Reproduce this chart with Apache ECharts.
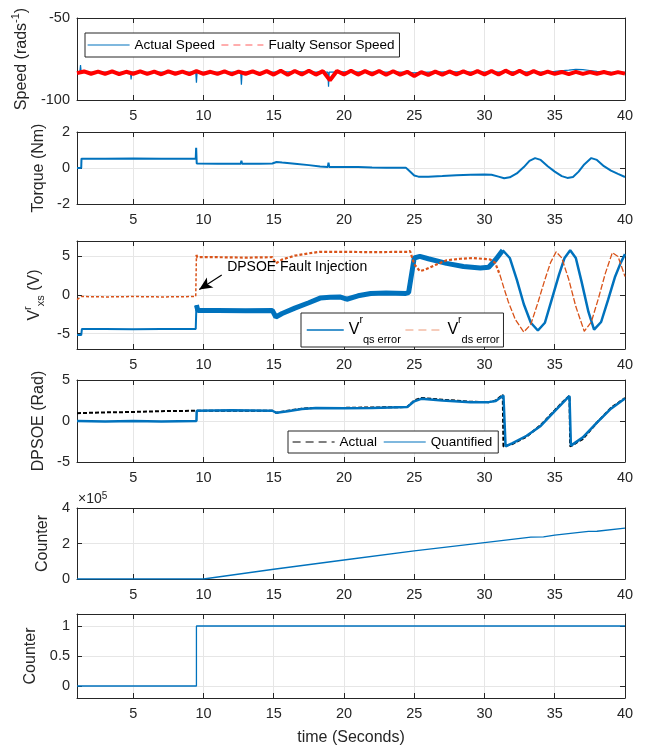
<!DOCTYPE html>
<html><head><meta charset="utf-8">
<script src="https://cdn.jsdelivr.net/npm/echarts@6/dist/echarts.min.js"></script>
<style>html,body{margin:0;padding:0;background:#fff}#c{width:648px;height:748px}</style>
</head><body><div id="c"></div>
<script>
// ---------- data ----------
const xTicks = [5, 10, 15, 20, 25, 30, 35, 40];

const speedActualT = [1, 1.2, 1.25, 1.3, 2, 3, 4, 4.8, 4.85, 4.9, 6, 7, 8, 9, 9.45, 9.5, 9.55, 10.5, 11.5, 12.65, 12.7, 12.75, 14, 15, 16, 17, 18, 18.85, 18.9, 18.95, 20, 22, 24, 25, 26, 28, 30, 32, 34, 35, 36, 36.5, 37, 37.5, 38, 39, 40];
const speedActualV = [-83, -83, -78.7, -83, -83.2, -83, -83.1, -83, -87.4, -83, -83.2, -83, -83.1, -83, -83, -89.4, -83, -83.1, -83, -83, -90.7, -83, -83.2, -83, -82.8, -82.9, -83, -83, -91.9, -83, -82.8, -83, -83, -83.5, -83, -82.9, -83, -82.8, -83, -82.5, -81.8, -81.3, -81.5, -82, -82.5, -83, -83.2];

const speedFaultyT = [1, 1.5, 2, 2.5, 3, 3.5, 4, 4.5, 5, 5.5, 6, 6.5, 7, 7.5, 8, 8.5, 9, 9.5, 10, 10.5, 11, 11.5, 12, 12.5, 13, 13.5, 14, 14.5, 15, 15.5, 16, 16.5, 17, 17.5, 18, 18.5, 19, 19.5, 20, 20.5, 21, 21.5, 22, 22.5, 23, 23.5, 24, 24.5, 25, 25.5, 26, 26.5, 27, 27.5, 28, 28.5, 29, 29.5, 30, 30.5, 31, 31.5, 32, 32.5, 33, 33.5, 34, 34.5, 35, 35.5, 36, 36.5, 37, 37.5, 38, 38.5, 39, 39.5, 40];
const speedFaultyV = [-83.6, -82.6, -84.0, -82.7, -84.1, -82.5, -84.2, -82.8, -84.0, -82.6, -84.1, -82.7, -84.3, -82.5, -84.0, -82.7, -84.2, -82.4, -84.0, -82.8, -84.1, -82.6, -84.3, -82.7, -84.0, -82.5, -84.2, -82.4, -84.5, -82.2, -84.6, -82.3, -84.4, -82.2, -84.5, -82.4, -88.0, -82.3, -84.4, -82.2, -84.5, -82.4, -84.4, -82.3, -84.6, -82.5, -84.5, -82.8, -85.4, -83.0, -84.7, -82.7, -84.5, -82.6, -84.4, -82.5, -84.3, -82.4, -84.4, -82.3, -84.5, -82.1, -84.3, -82.2, -84.4, -82.4, -84.2, -82.7, -84.1, -82.9, -84.2, -82.8, -84.1, -83.0, -84.0, -82.9, -84.1, -83.0, -83.9];

const torqueT = [1, 1.3, 1.32, 3, 5, 7, 9.45, 9.48, 9.52, 9.6, 11, 12.65, 12.7, 12.75, 14, 14.9, 15.2, 15.6, 16.5, 17.5, 18.3, 18.85, 18.9, 18.95, 20, 21, 22, 23, 24.4, 24.7, 25, 25.3, 26, 27, 28, 29, 30, 30.5, 31, 31.4, 31.8, 32.3, 32.8, 33.2, 33.6, 34, 34.5, 35, 35.5, 35.9, 36.3, 36.7, 37.1, 37.6, 38, 38.5, 39, 39.5, 40];
const torqueV = [0, 0, 0.52, 0.52, 0.53, 0.52, 0.52, 1.12, 0.25, 0.23, 0.24, 0.24, 0.4, 0.24, 0.23, 0.25, 0.33, 0.3, 0.24, 0.16, 0.08, 0.06, 0.3, 0.06, 0.06, 0.05, 0.03, 0.02, 0.02, -0.2, -0.42, -0.48, -0.49, -0.45, -0.4, -0.38, -0.36, -0.38, -0.48, -0.57, -0.52, -0.3, 0.05, 0.4, 0.55, 0.45, 0.1, -0.2, -0.45, -0.55, -0.5, -0.2, 0.2, 0.55, 0.45, 0.1, -0.15, -0.33, -0.5];

const qsT = [1, 1.3, 1.35, 3, 5, 7, 9.45, 9.5, 9.6, 11, 13, 14.9, 15.15, 15.6, 16.5, 17.5, 18.3, 19, 19.7, 20.2, 21, 21.9, 23, 24.4, 24.6, 25, 25.4, 26, 27.3, 28.5, 29.7, 30.3, 30.8, 31.3, 31.8, 32.3, 32.8, 33.3, 33.8, 34.3, 34.8, 35.3, 35.7, 36.1, 36.5, 36.9, 37.4, 37.8, 38.3, 38.8, 39.3, 39.7, 40];
const qsV = [-5.2, -5.2, -4.4, -4.4, -4.45, -4.4, -4.4, -1.3, -2.0, -2.0, -2.05, -2.0, -2.85, -2.4, -1.7, -1.0, -0.4, -0.3, -0.25, -0.55, -0.1, 0.2, 0.25, 0.2, 0.3, 4.8, 5.0, 4.7, 4.1, 3.7, 3.5, 3.6, 4.6, 5.8, 4.8, 2.0, -1.2, -3.6, -4.6, -3.6, -0.5, 2.6, 4.8, 5.8, 4.8, 1.8, -2.2, -4.5, -3.5, -0.6, 2.4, 4.2, 5.3];

const dsT = [1, 1.3, 3, 5, 7, 9.45, 9.5, 9.55, 11, 13, 14.9, 15.15, 15.6, 16.5, 17.5, 18.3, 20, 22, 24.5, 24.7, 25.0, 25.4, 25.8, 26.5, 27.3, 28.3, 29.2, 30.4, 30.75, 31.1, 31.4, 31.7, 32.2, 32.8, 33.3, 33.8, 34.3, 34.7, 35.1, 35.5, 36, 36.5, 37.1, 37.6, 38.1, 38.6, 39.1, 39.5, 40];
const dsV = [-0.6, -0.2, -0.25, -0.2, -0.25, -0.2, 5.2, 4.9, 4.9, 4.85, 4.9, 4.1, 4.6, 5.1, 5.4, 5.6, 5.6, 5.55, 5.6, 5.7, 4.0, 3.1, 3.3, 3.9, 4.5, 4.7, 4.8, 4.6, 4.2, 2.6, 0.8, -0.9, -3.2, -4.8, -3.8, -1.0, 2.0, 4.2, 5.6, 4.8, 2.0, -1.5, -4.7, -3.5, -0.5, 2.8, 5.5, 5.0, 2.4];

const dpActualT = [1, 3, 5, 7, 9.5, 12, 14.9, 15.2, 16, 17, 18, 20, 22, 24.5, 25.0, 25.5, 27, 29, 30.3, 30.8, 31.3, 31.35, 32, 33, 34, 35, 35.5, 36.05, 36.1, 37, 38, 39, 40];
const dpActualV = [0.95, 1.05, 1.1, 1.2, 1.25, 1.25, 1.25, 1.0, 1.25, 1.5, 1.6, 1.6, 1.65, 1.7, 2.5, 2.8, 2.6, 2.35, 2.3, 2.5, 3.2, -3.1, -2.8, -1.9, -0.5, 1.3, 2.2, 3.1, -3.1, -2.2, -0.2, 1.6, 2.8];

const dpQuantT = [1, 3, 5, 7, 9.5, 9.52, 12, 14.9, 15.2, 16, 17, 18, 20, 22, 24.5, 25.0, 25.5, 27, 29, 30.3, 30.8, 31.35, 31.5, 32, 33, 34, 35, 35.5, 36.05, 36.15, 37, 38, 39, 40];
const dpQuantV = [0, -0.05, 0, -0.05, 0, 1.25, 1.3, 1.25, 1.0, 1.2, 1.45, 1.6, 1.55, 1.6, 1.7, 2.4, 2.7, 2.5, 2.3, 2.3, 2.45, 3.1, -3.1, -2.7, -1.8, -0.6, 1.2, 2.1, 3.05, -3.0, -2.0, -0.2, 1.5, 2.75];

const counterT = [1, 5, 10, 15, 20, 25, 30, 33.3, 34.2, 35, 37.4, 38, 40];
const counterV = [0, 0, 0, 55000, 107000, 158000, 205000, 236000, 237000, 247000, 268000, 269000, 287000];

const flagT = [1, 9.5, 9.5, 40];
const flagV = [0, 0, 1, 1];

const yTicks = [[-100, -50], [-2, 0, 2], [-5, 0, 5], [-5, 0, 5], [0, 200000, 400000], [0, 0.5, 1]];
const yRanges = [[-100, -50], [-2, 2], [-7, 7], [-5, 5], [0, 400000], [-0.2, 1.2]];

// annotation (data coordinates)
const annoArrowFrom = [11.3, 2.6];
const annoArrowTo = [9.7, 0.7];
const annoTextAt = [11.4, 3.66];

// ---------- helpers ----------
const FONT = '"Liberation Sans", Arial, Helvetica, sans-serif';
const AX = '#262626';
const GRIDC = '#e6e6e6';
const BLUE = '#0072BD', ORANGE = '#D95319', RED = '#FF0000';
const zip = (T, V) => T.map((t, i) => [t, V[i]]);
const pick = (T, V, a, b) => zip(T, V).filter(p => p[0] >= a && p[0] <= b);

const gridBoxes = [
  { top: 18, height: 82 },
  { top: 132, height: 72 },
  { top: 241, height: 108 },
  { top: 380, height: 82 },
  { top: 508, height: 71 },
  { top: 614, height: 84 }
];
const yNames = [
  '{a|Speed (rads}{s|-1}{a|)}',
  'Torque (Nm)',
  '{a|V}{s|r}{b|xs}{a| (V)}',
  'DPSOE (Rad)',
  'Counter',
  'Counter'
];
const yGaps = [41, 20, 28, 25, 17, 27];

const grid = gridBoxes.map(g => ({ left: 77, right: 23, top: g.top, height: g.height, containLabel: false }));

const xAxis = [], yAxis = [];
gridBoxes.forEach((g, i) => {
  xAxis.push({
    gridIndex: i, type: 'value', min: 1, max: 40, position: 'bottom',
    axisLine: { show: true, onZero: false, lineStyle: { color: AX, width: 1 } },
    axisTick: { show: true, inside: true, length: 5, customValues: xTicks, lineStyle: { color: AX } },
    axisLabel: { customValues: xTicks, color: AX, fontSize: 14.5, fontFamily: FONT, margin: 8 },
    splitLine: { show: true, lineStyle: { color: GRIDC, width: 1 } },
    name: i === 5 ? 'time (Seconds)' : '', nameLocation: 'middle', nameGap: 32,
    nameTextStyle: { fontSize: 16, color: AX, fontFamily: FONT }
  });
  xAxis.push({
    gridIndex: i, type: 'value', min: 1, max: 40, position: 'top',
    axisLine: { show: true, onZero: false, lineStyle: { color: AX, width: 1 } },
    axisTick: { show: true, inside: true, length: 5, customValues: xTicks, lineStyle: { color: AX } },
    axisLabel: { show: false }, splitLine: { show: false }
  });
  const fmt = i === 4 ? (v => String(v / 100000)) : undefined;
  yAxis.push({
    gridIndex: i, type: 'value', min: yRanges[i][0], max: yRanges[i][1], position: 'left',
    axisLine: { show: true, onZero: false, lineStyle: { color: AX, width: 1 } },
    axisTick: { show: true, inside: true, length: 5, customValues: yTicks[i], lineStyle: { color: AX } },
    axisLabel: { customValues: yTicks[i], color: AX, fontSize: 14.5, fontFamily: FONT, margin: 7, formatter: fmt },
    splitLine: { show: true, lineStyle: { color: GRIDC, width: 1 } },
    name: yNames[i], nameLocation: 'middle', nameGap: yGaps[i], nameRotate: 90,
    nameTextStyle: {
      fontSize: 16, color: AX, fontFamily: FONT,
      rich: {
        a: { fontSize: 16, color: AX, fontFamily: FONT, lineHeight: 24 },
        s: { fontSize: 11, color: AX, fontFamily: FONT, verticalAlign: 'top' },
        b: { fontSize: 11, color: AX, fontFamily: FONT, verticalAlign: 'bottom' }
      }
    }
  });
  yAxis.push({
    gridIndex: i, type: 'value', min: yRanges[i][0], max: yRanges[i][1], position: 'right',
    axisLine: { show: true, onZero: false, lineStyle: { color: AX, width: 1 } },
    axisTick: { show: true, inside: true, length: 5, customValues: yTicks[i], lineStyle: { color: AX } },
    axisLabel: { show: false }, splitLine: { show: false }
  });
});

function line(name, gi, data, color, width, type, z) {
  return {
    name, type: 'line', xAxisIndex: gi * 2, yAxisIndex: gi * 2, data,
    symbol: 'none', showSymbol: false, animation: false, z: z || 2,
    lineStyle: { color, width, type: type || 'solid' }, itemStyle: { color }
  };
}

const series = [
  line('Actual Speed', 0, zip(speedActualT, speedActualV), BLUE, 1.2),
  line('Fualty Sensor Speed', 0, zip(speedFaultyT, speedFaultyV), RED, 4),
  line('Torque', 1, zip(torqueT, torqueV), BLUE, 2),
  line('Vqs', 2, pick(qsT, qsV, 1, 9.5), BLUE, 2),
  line('Vqs', 2, pick(qsT, qsV, 9.5, 31.3), BLUE, 5),
  line('Vqs', 2, pick(qsT, qsV, 31.3, 40), BLUE, 2.5),
  line('Vds', 2, pick(dsT, dsV, 1, 9.5), ORANGE, 1.5, [3, 2], 3),
  line('Vds', 2, pick(dsT, dsV, 9.5, 31.1), ORANGE, 2.2, [3, 2], 3),
  line('Vds', 2, pick(dsT, dsV, 31.1, 40), ORANGE, 1.3, [6, 2], 3),
  line('Actual', 3, zip(dpActualT, dpActualV), '#000000', 2, [4, 2]),
  line('Quantified', 3, zip(dpQuantT, dpQuantV), BLUE, 2.5, 'solid', 3),
  line('Counter', 4, zip(counterT, counterV), BLUE, 1.3),
  line('Flag', 5, zip(flagT, flagV), BLUE, 1.3)
];
series[6].markLine = {
  silent: true, animation: false, symbol: ['none', 'arrow'], symbolSize: [9, 13],
  lineStyle: { color: '#000', width: 1.2, type: 'solid' }, label: { show: false },
  data: [[{ coord: annoArrowFrom }, { coord: annoArrowTo }]]
};
series[6].markPoint = {
  silent: true, animation: false, symbol: 'circle', symbolSize: 0,
  itemStyle: { color: 'rgba(0,0,0,0)' },
  label: { show: true, position: 'right', distance: 4, color: '#000', fontSize: 14, fontFamily: FONT, formatter: 'DPSOE Fault Injection' },
  data: [{ coord: annoTextAt }]
};

const HIDE = { color: 'rgba(0,0,0,0)', borderWidth: 0, borderColor: 'rgba(0,0,0,0)' };
const legendBase = {
  orient: 'horizontal', selectedMode: false, backgroundColor: '#fff',
  borderColor: AX, borderWidth: 1, borderRadius: 0, itemWidth: 42, itemHeight: 14, itemGap: 6,
  itemStyle: HIDE,
  textStyle: { fontSize: 13.5, color: '#000', fontFamily: FONT }
};
const legend = [
  Object.assign({}, legendBase, {
    left: 85, top: 33, padding: [5, 5, 5, 2],
    data: [{ name: 'Actual Speed', itemStyle: HIDE, lineStyle: { width: 1.2 } }, { name: 'Fualty Sensor Speed', itemStyle: HIDE, lineStyle: { type: [7, 5], width: 1, color: '#ff5c5c' } }]
  }),
  Object.assign({}, legendBase, {
    left: 301, top: 313, padding: [2, 4, 2, 5], itemWidth: 37, itemGap: 4,
    data: [{ name: 'Vqs', itemStyle: HIDE, lineStyle: { width: 1.5 } }, { name: 'Vds', itemStyle: HIDE, lineStyle: { type: [8, 5], width: 1.2, color: '#ee9a78' } }],
    formatter: n => n === 'Vqs' ? '{v|V}{r|r}{s|qs error}' : '{v|V}{r|r}{s|ds error}',
    textStyle: {
      fontSize: 13.5, color: '#000', fontFamily: FONT,
      rich: {
        v: { fontSize: 16, color: '#000', fontFamily: FONT, lineHeight: 30 },
        r: { fontSize: 10.5, color: '#000', fontFamily: FONT, verticalAlign: 'top' },
        s: { fontSize: 11, color: '#000', fontFamily: FONT, verticalAlign: 'bottom' }
      }
    }
  }),
  Object.assign({}, legendBase, {
    left: 288, top: 431, padding: [4, 6, 4, 4],
    data: [{ name: 'Actual', itemStyle: HIDE, lineStyle: { type: [8, 5], width: 1.2 } }, { name: 'Quantified', itemStyle: HIDE, lineStyle: { width: 1.2 } }]
  })
];

const chart = echarts.init(document.getElementById('c'), null, { renderer: 'canvas' });
chart.setOption({
  animation: false,
  backgroundColor: '#fff',
  grid, xAxis, yAxis, series, legend,
  graphic: []
});
// exponent label placed at the top-left corner of the counter axes
const p = chart.convertToPixel({ gridIndex: 4 }, [1, 400000]);
chart.setOption({
  graphic: [{
    type: 'text', left: p[0] + 1, top: p[1] - 17,
    style: { rich: { a: { fontSize: 14, fill: AX, fontFamily: FONT }, s: { fontSize: 10, fill: AX, fontFamily: FONT, verticalAlign: 'top' } }, text: '{a|×10}{s|5}', lineHeight: 16 }
  }]
});
</script></body></html>
